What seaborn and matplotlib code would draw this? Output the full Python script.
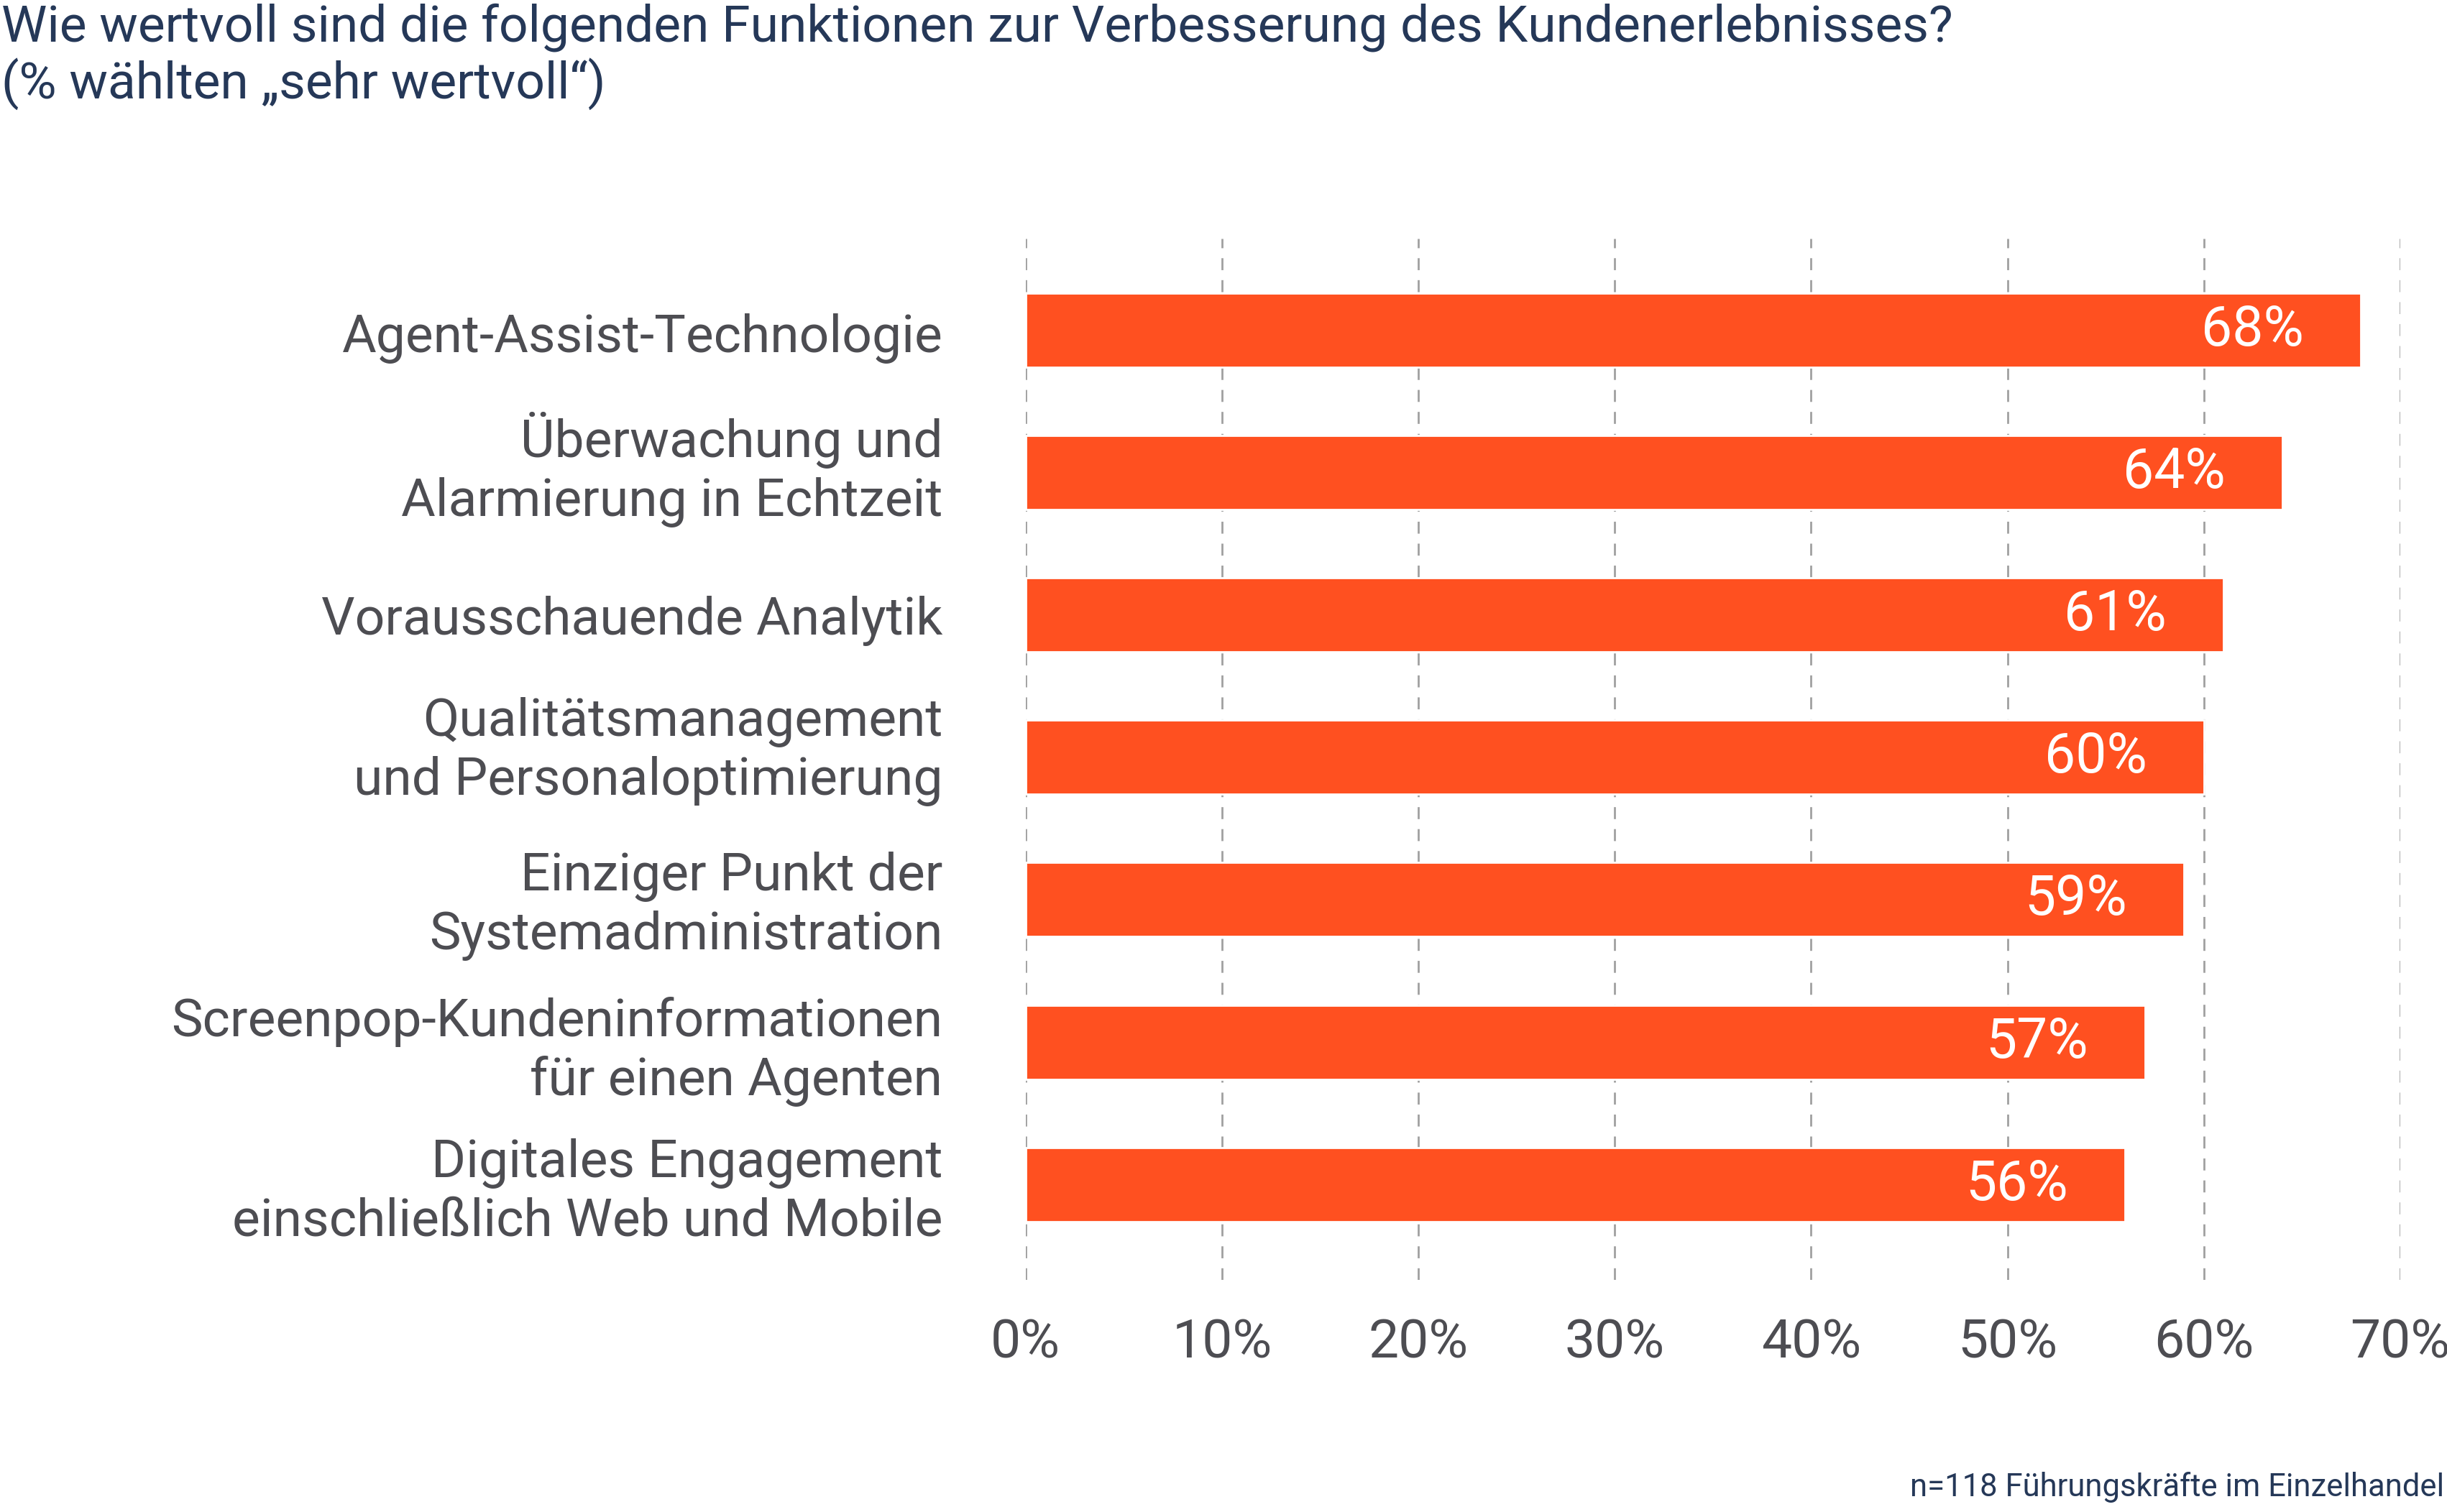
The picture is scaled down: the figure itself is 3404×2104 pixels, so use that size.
import seaborn as sns
import matplotlib.pyplot as plt
import matplotlib.transforms as mtransforms
import pandas as pd

# Chart data
features = [
    'Agent-Assist-Technologie',
    'Überwachung und\nAlarmierung in Echtzeit',
    'Vorausschauende Analytik',
    'Qualitätsmanagement\nund Personaloptimierung',
    'Einziger Punkt der\nSystemadministration',
    'Screenpop-Kundeninformationen\nfür einen Agenten',
    'Digitales Engagement\neinschließlich Web und Mobile',
]
values = [68, 64, 61, 60, 59, 57, 56]
x_ticks = [0, 10, 20, 30, 40, 50, 60, 70]

title = 'Wie wertvoll sind die folgenden Funktionen zur Verbesserung des Kundenerlebnisses?\n(% wählten „sehr wertvoll“)'
footnote = 'n=118 Führungskräfte im Einzelhandel'

df = pd.DataFrame({'feature': features, 'value': values})

sns.set_theme(style='white')
plt.rcParams['font.family'] = ['Roboto', 'DejaVu Sans']

fig = plt.figure(figsize=(17.025, 10.52), dpi=200)
ax = fig.add_axes([0.419, 0.1535, 0.5616, 0.6885])

sns.barplot(data=df, x='value', y='feature', orient='h', color='#FF5020',
            saturation=1, width=0.52, ax=ax)

ax.set_xlim(0, 70)
ax.set_ylim(len(features) - 0.33, -0.64)
ax.set_xticks(x_ticks)
ax.set_xticklabels([f'{t}%' for t in x_ticks], fontsize=27, color='#4d4d52')
ax.set_yticks(range(len(features)))
ax.set_yticklabels(features, fontsize=26.4, color='#4d4d52', linespacing=1.22)
ax.tick_params(axis='x', length=0, pad=19)
ax.tick_params(axis='y', length=0, pad=41.5)
ax.set_xlabel('')
ax.set_ylabel('')

# small vertical nudges of the category labels (points, + is up)
nudges = [-1.5, 6.3, 0, 7.8, 1.6, 0.3, 0.8]
for lbl, dy in zip(ax.get_yticklabels(), nudges):
    lbl.set_transform(lbl.get_transform() + mtransforms.ScaledTranslation(0, dy / 72, fig.dpi_scale_trans))

for s in ax.spines.values():
    s.set_visible(False)

ax.set_axisbelow(True)
ax.xaxis.grid(True, linestyle=(0, (6, 5)), color='#a0a0a0', linewidth=1.0)
ax.yaxis.grid(False)

# value labels inside bars
for i, v in enumerate(values):
    ax.text(v - 2.9, i, f'{v}%', ha='right', va='center', fontsize=27.7, color='white')

fig.text(0.0005, 0.998, title, ha='left', va='top', fontsize=25.7, color='#253858', linespacing=1.15)
fig.text(0.9985, 0.006, footnote, ha='right', va='bottom', fontsize=15.7, color='#253858')

fig.savefig('out.png', dpi=200)
